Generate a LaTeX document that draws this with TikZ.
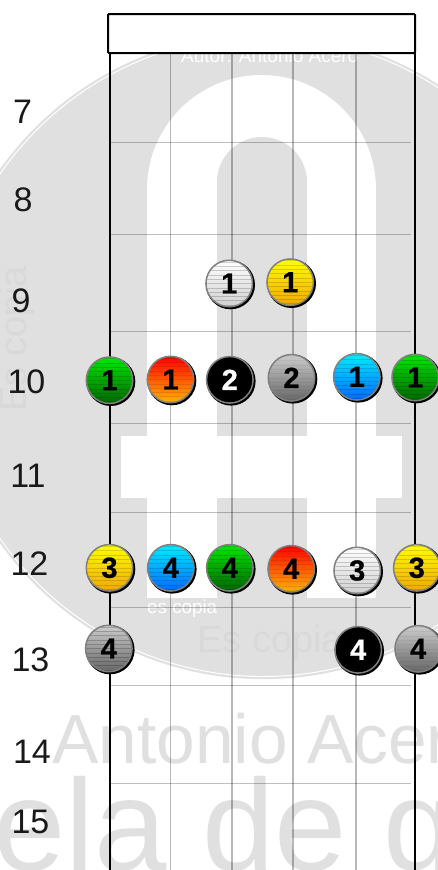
\documentclass[tikz,border=0pt]{standalone}
\usepackage{fontspec}
\setmainfont{Liberation Sans}
\newfontfamily\ballfont[FakeBold=0.8]{Liberation Sans Bold}
\definecolor{wm}{HTML}{E0E0E0}
\definecolor{wmdark}{HTML}{D9D9D9}
\newcommand{\fs}[1]{\fontsize{#1}{#1}\selectfont}
\tikzset{
  txt/.style={inner sep=0pt,anchor=base west},
  fretnum/.style={inner sep=0pt,anchor=base,text=black!90,font=\fs{34}},
  fretline/.style={black,opacity=.25,line width=1pt},
  thinstring/.style={black,opacity=.28,line width=1.1pt},
  thickstring/.style={black,line width=2pt},
  ballbody/.style={circle,inner sep=0pt,minimum size=46.5pt,draw=#1,line width=1.5pt},
  ballbody/.default={black!50},
}
% name, x, y, top, bottom, digit, digit colour, stripe opacity
\newcommand{\ball}[8]{%
  \fill[black] (#2+1.3,#3+1.3) circle[radius=24.5pt];
  \node[ballbody,top color=#4,bottom color=#5,text=#7,font=\ballfont\fs{29},
    path picture={
      \foreach \s in {-21.5,-17.2,...,22}{
        \draw[black,opacity=#8,line width=.6pt]
          ([yshift=\s pt]path picture bounding box.west) -- ([yshift=\s pt]path picture bounding box.east);
      }}] (#1) at (#2,#3) {#6};
}
\definecolor{yt}{HTML}{FFFF00}\definecolor{yb}{HTML}{F0A800}
\definecolor{gt}{HTML}{00E800}\definecolor{gb}{HTML}{006400}
\definecolor{rt}{HTML}{FF0000}\definecolor{rb}{HTML}{FFB400}
\definecolor{bt}{HTML}{00EEFF}\definecolor{bb}{HTML}{0068FF}
\definecolor{wt}{HTML}{FFFFFF}\definecolor{wb}{HTML}{D0D0D0}
\definecolor{at}{HTML}{CCCCCC}\definecolor{ab}{HTML}{666666}
\begin{document}
\begin{tikzpicture}[x=1pt,y=-1pt]
\clip (0,0) rectangle (438,870);
\fill[white] (0,0) rectangle (438,870);
% watermark disc
\fill[wm] (263.4,356.2) circle[radius=323pt];
\draw[white,line width=1pt] (263.4,356.2) circle[radius=320.3pt];
% watermark letter
\fill[white] (261.5,189.5) circle[radius=114.5pt];
\fill[white] (147,189.5) rectangle (376,598);
\fill[wm] (262,182) circle[radius=45pt];
\fill[wm] (217,182) rectangle (307,436);
\fill[white] (121,436) rectangle (402,498);
\fill[wm] (217,498) rectangle (307,598);
% watermark texts
\node[txt,text=white,font=\fs{19}] (autor) at (181,62) {Autor: Antonio Acero};
\node[txt,text=white,font=\fs{18.8}] (escopiasmall) at (147,613) {es copia};
\node[txt,text=wmdark,font=\fs{38}] (escopialow) at (197,652) {Es copia};
\node[txt,text=wmdark,font=\fs{38},rotate=90] (escopialeft) at (27,412) {Es copia};
\node[txt,text=wm,font=\fs{69.5}] (antonio) at (52,763) {Antonio Acero};
\node[txt,text=wm,font=\fs{130}] (escuela) at (-7,870) {ela de g};
% frets
\foreach \y in {142,234.5,331.5,423,512.5,607.5,685,783}{
  \draw[fretline] (110,\y) -- (411,\y);
}
% strings
\foreach \x in {170.5,232,293,356}{
  \draw[thinstring] (\x,53) -- (\x,870);
}
\draw[thickstring] (110.3,53) -- (110.3,870);
\draw[thickstring] (415,53) -- (415,870);
% nut
\draw[black,line width=2pt,fill=white,rounded corners=1pt] (108,14) rectangle (415,53);
% fret numbers
\node[fretnum] (n7) at (22.5,123) {7};
\node[fretnum] (n8) at (23,211) {8};
\node[fretnum] (n9) at (21,312) {9};
\node[fretnum] (n10) at (26.5,393) {10};
\node[fretnum] (n11) at (28,487) {11};
\node[fretnum] (n12) at (29.5,575) {12};
\node[fretnum] (n13) at (30.5,671) {13};
\node[fretnum] (n14) at (32,763) {14};
\node[fretnum] (n15) at (30.5,833) {15};
% balls
\ball{a1}{229.2}{283.5}{wt}{wb}{1}{black}{.18}
\ball{a2}{290.2}{282.2}{yt}{yb}{1}{black}{.15}
\ball{b1}{109.5}{380.2}{gt}{gb}{1}{black}{.15}
\ball{b2}{170.5}{379.5}{rt}{rb}{1}{black}{.1}
\ball{b3}{229.8}{379.8}{black}{black}{2}{white}{0}
\ball{b4}{291.5}{377.8}{at}{ab}{2}{black}{.05}
\ball{b5}{356.8}{376.8}{bt}{bb}{1}{black}{.15}
\ball{b6}{415.2}{377.5}{gt}{gb}{1}{black}{.15}
\ball{c1}{109.5}{567.8}{yt}{yb}{3}{black}{.15}
\ball{c2}{170.8}{567.8}{bt}{bb}{4}{black}{.15}
\ball{c3}{229.8}{567.8}{gt}{gb}{4}{black}{.15}
\ball{c4}{291.2}{568.8}{rt}{rb}{4}{black}{.1}
\ball{c5}{357.2}{570.5}{wt}{wb}{3}{black}{.18}
\ball{c6}{416.8}{567.8}{yt}{yb}{3}{black}{.15}
\ball{d1}{108.8}{648.5}{at}{ab}{4}{black}{.2}
\ball{d2}{358.2}{649.8}{black}{black}{4}{white}{0}
\ball{d3}{418.2}{648.8}{at}{ab}{4}{black}{.05}
\end{tikzpicture}
\end{document}
